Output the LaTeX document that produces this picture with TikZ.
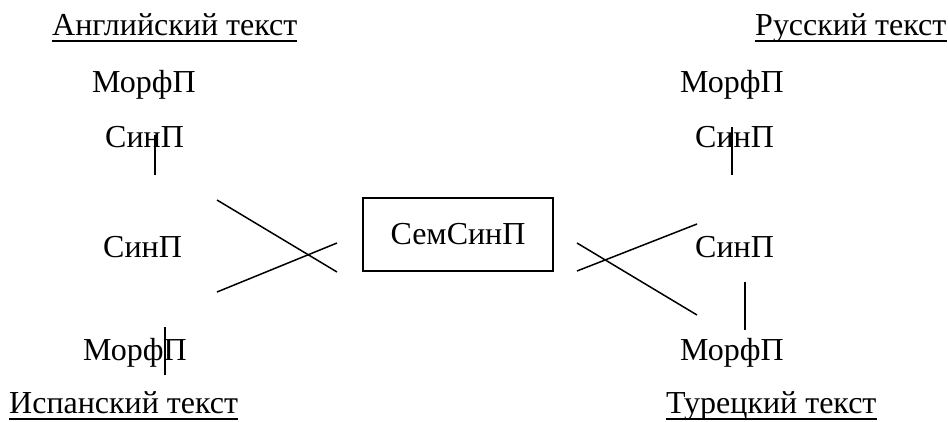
\documentclass[tikz,border=0pt]{standalone}
\usepackage{fontspec}
\setmainfont{Liberation Serif}
\begin{document}
\begin{tikzpicture}[x=1pt,y=-1pt,
  lbl/.style={anchor=base west,inner sep=0pt,font=\fontsize{32}{38}\selectfont},
  semnode/.style={draw,line width=1.5pt,minimum width=190pt,minimum height=73pt,inner sep=0pt,font=\fontsize{32}{38}\selectfont},
  link/.style={line width=1.5pt},
  uline/.style={line width=2pt}]
\useasboundingbox (0,0) rectangle (948,421);

% text headings
\node[lbl] (engT) at (52,35) {Английский текст};
\node[lbl] (rusT) at (755,35) {Русский текст};
\node[lbl] (spaT) at (9,413) {Испанский текст};
\node[lbl] (turT) at (666,413) {Турецкий текст};
\foreach \n in {engT,rusT,spaT,turT}
  \draw[uline] ([yshift=-6pt]\n.base west) -- ([yshift=-6pt]\n.base east);

% left column
\node[lbl] (engM) at (92,92) {МорфП};
\node[lbl] (engS1) at (105,147) {СинП};
\node[lbl] (engS2) at (103,257) {СинП};
\node[lbl] (spaM) at (83,360) {МорфП};

% right column
\node[lbl] (rusM) at (680,92) {МорфП};
\node[lbl] (rusS1) at (695,147) {СинП};
\node[lbl] (rusS2) at (695,257) {СинП};
\node[lbl] (turM) at (680,360) {МорфП};

% centre
\node[semnode] (sem) at (458,234.5) {СемСинП};

% line end points
\coordinate (a1) at (155,135); \coordinate (a2) at (155,175);
\coordinate (b1) at (165,327); \coordinate (b2) at (165,375);
\coordinate (c1) at (217,200); \coordinate (c2) at (337,272);
\coordinate (d1) at (217,292); \coordinate (d2) at (337,243);
\coordinate (e1) at (577,243); \coordinate (e2) at (697,315);
\coordinate (f1) at (577,271); \coordinate (f2) at (697,224);
\coordinate (g1) at (732,127); \coordinate (g2) at (732,175);
\coordinate (h1) at (745,282); \coordinate (h2) at (745,330);

\draw[link] (a1) -- (a2);
\draw[link] (b1) -- (b2);
\draw[link] (c1) -- (c2);
\draw[link] (d1) -- (d2);
\draw[link] (e1) -- (e2);
\draw[link] (f1) -- (f2);
\draw[link] (g1) -- (g2);
\draw[link] (h1) -- (h2);
\end{tikzpicture}
\end{document}
